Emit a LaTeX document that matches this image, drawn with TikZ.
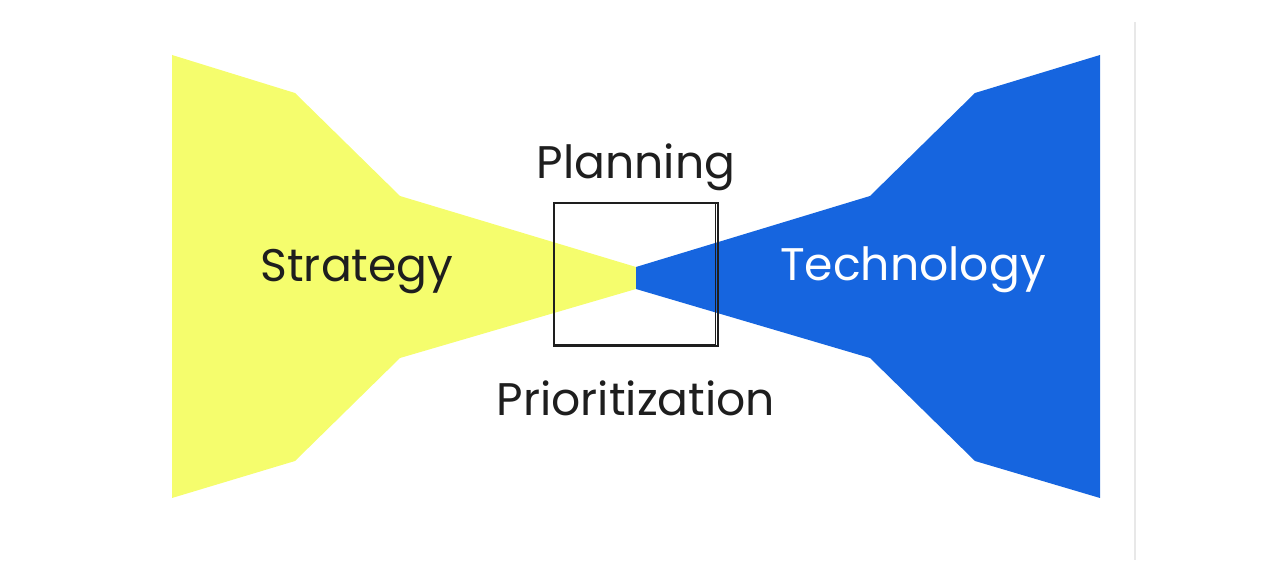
\documentclass[tikz,border=0pt]{standalone}
\usepackage{fontspec}
\setmainfont{Poppins}
\usepackage{xcolor}
\usepackage{tikz}
\usetikzlibrary{positioning,calc}
\definecolor{stratyellow}{HTML}{F5FD6D}
\definecolor{techblue}{HTML}{1665DF}
\definecolor{inkblack}{HTML}{1E1E1E}
\tikzset{
	wing/.style={draw=none},
	label/.style={font=\fontsize{26}{30}\selectfont, text=inkblack, inner sep=0pt},
	sketchbox/.style={draw=inkblack, line width=1.4pt, minimum width=3.28cm, minimum height=2.86cm, inner sep=0pt}
}

\begin{document}
\begin{tikzpicture}[x=0.02cm, y=-0.02cm]
		\useasboundingbox (0,0) rectangle (1276,584);
		
		%% -- faint page edge
		\draw[gray!18, line width=0.6pt] (1135,22) -- (1135,560);
		
		%% -- Strategy wing
		\fill[stratyellow, wing] (172,55) -- (295,93) -- (400,196) -- (636,267)
		-- (636,289) -- (400,358) -- (295,461) -- (172,498) -- cycle;
		
		%% -- Technology wing
		\fill[techblue, wing] (1100,55) -- (975,93) -- (870,196) -- (636,267)
		-- (636,289) -- (870,358) -- (975,461) -- (1100,498) -- cycle;
		
		%% -- center box (two strokes, hand drawn look)
		\node[sketchbox] (box) at (636,274.5) {};
		\draw[inkblack, line width=0.6pt]
		([xshift=1pt, yshift=-1pt] box.north west) -- ([xshift=-2pt, yshift=-1pt] box.north east)
		-- ([xshift=-2pt, yshift=1.5pt] box.south east) -- ([xshift=1pt, yshift=1.5pt] box.south west) -- cycle;
		
		%% -- labels
		\node[label, above=6pt of box] (plan) {Planning};
		\node[label, below=19pt of box] (prio) {Prioritization};
		\node[label] (strat) at (357,272) {Strategy};
		\node[label, text=white] (tech) at (913,270) {Technology};
		
	\end{tikzpicture}
\end{document}
